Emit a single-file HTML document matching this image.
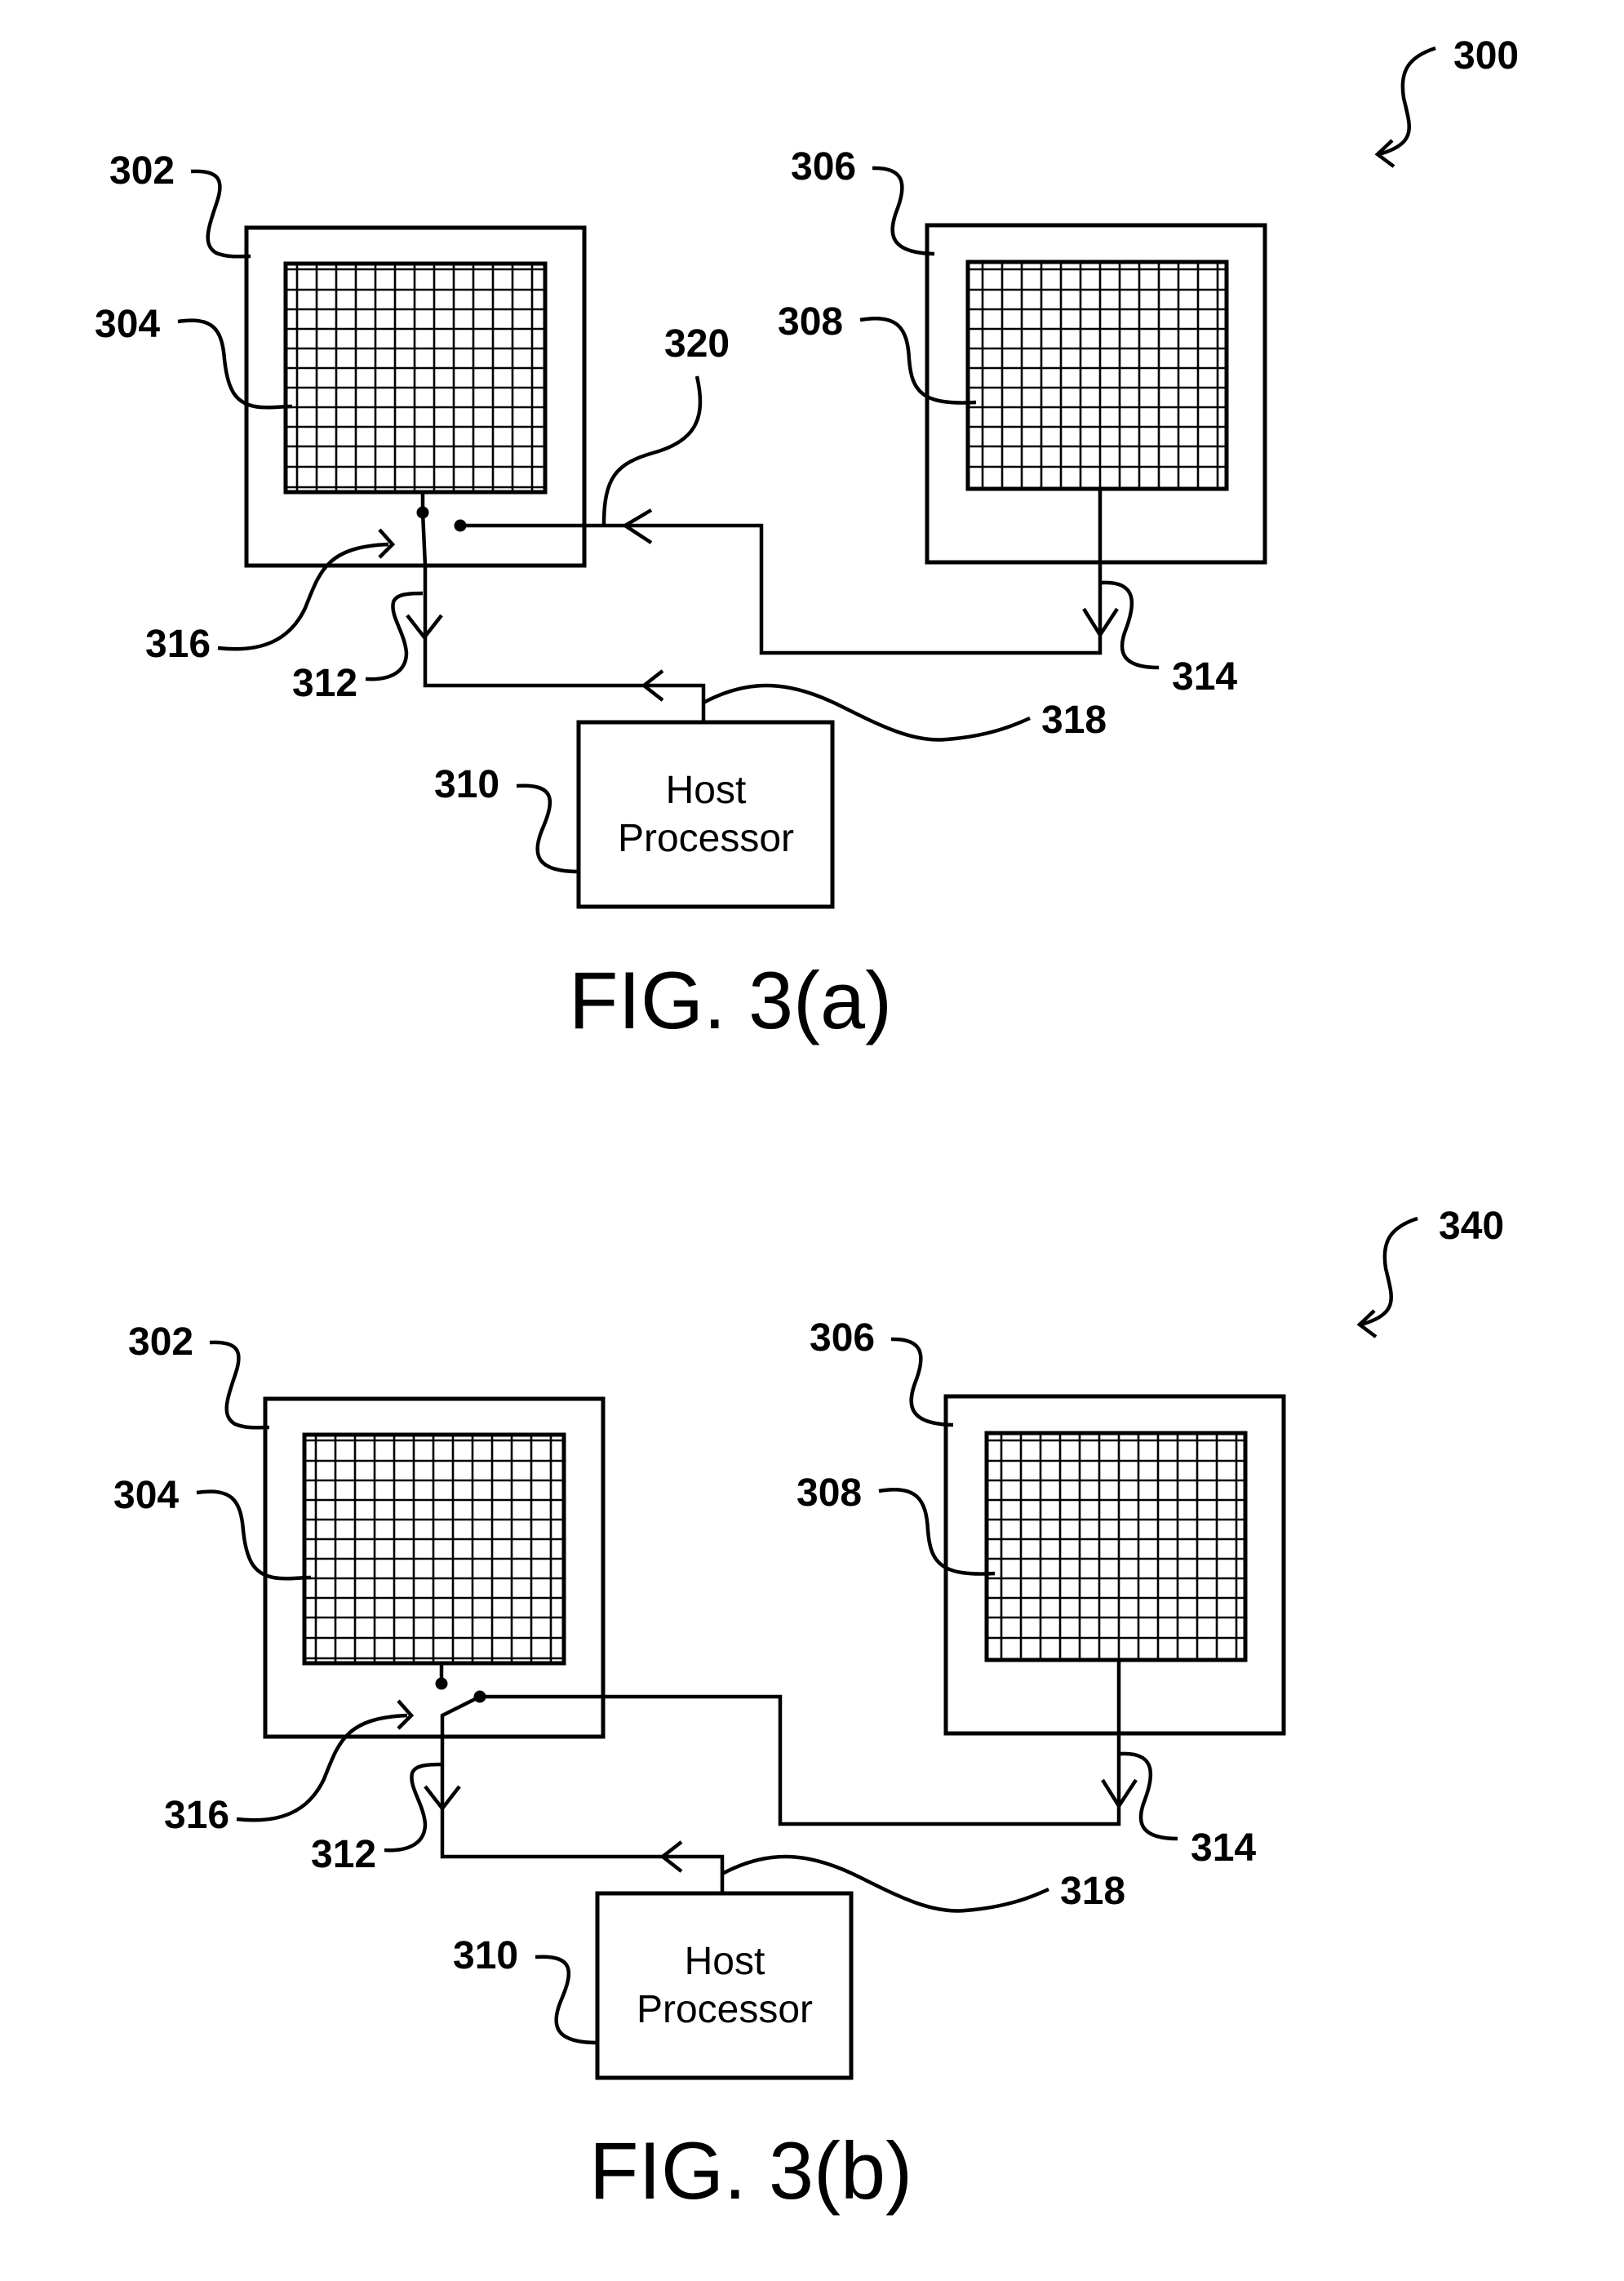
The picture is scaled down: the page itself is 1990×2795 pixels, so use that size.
<!DOCTYPE html>
<html><head><meta charset="utf-8"><style>
html,body{margin:0;padding:0;background:#fff;}
svg{display:block;}
.l{font-family:"Liberation Sans",Arial,sans-serif;font-weight:bold;font-size:48px;fill:#000;}
.h{font-family:"Liberation Sans",Arial,sans-serif;font-size:48px;fill:#000;}
.c{font-family:"Liberation Sans",Arial,sans-serif;font-size:99px;fill:#000;}
</style></head><body>
<svg width="1990" height="2795" viewBox="0 0 1990 2795" xmlns="http://www.w3.org/2000/svg">
<rect width="1990" height="2795" fill="#fff"/>

<!-- FIG 3(a) -->
<g fill="none" stroke="#000" stroke-width="4.5" stroke-linejoin="miter">
<rect x="302" y="279" width="414" height="414" stroke-width="5"/>
<path stroke-width="2.6" d="M364,323V603M388,323V603M412,323V603M436,323V603M460,323V603M484,323V603M508,323V603M532,323V603M556,323V603M580,323V603M604,323V603M628,323V603M652,323V603M350,330H668M350,355H668M350,379H668M350,403H668M350,427H668M350,451H668M350,475H668M350,499H668M350,523H668M350,547H668M350,572H668M350,597H668"/>
<rect x="350" y="323" width="318" height="280" stroke-width="5"/>
<rect x="1136" y="276" width="414" height="413" stroke-width="5"/>
<path stroke-width="2.6" d="M1204,321V599M1228,321V599M1252,321V599M1276,321V599M1300,321V599M1324,321V599M1348,321V599M1372,321V599M1396,321V599M1420,321V599M1444,321V599M1468,321V599M1492,321V599M1186,330H1503M1186,355H1503M1186,379H1503M1186,403H1503M1186,427H1503M1186,451H1503M1186,475H1503M1186,499H1503M1186,523H1503M1186,547H1503M1186,572H1503"/>
<rect x="1186" y="321" width="317" height="278" stroke-width="5"/>
<rect x="709" y="885" width="311" height="226" stroke-width="5"/>
<path d="M518,603 L518,628 L521,693 L521,840 L862,840 L862,885"/>
<path d="M499,754 L520,781 L541,754"/>
<path d="M812,822 L789,840 L812,858"/>
<path d="M564,644 L933,644 L933,800 L1348,800 L1348,599"/>
<path d="M798,625 L766,644 L798,665"/>
<path d="M1328,746 L1348,778 L1369,746"/>
<path d="M234,210 C270,208 275,222 265,250 C255,280 248,300 265,310 C280,316 295,314 307,314"/>
<path d="M218,394 C260,388 272,402 275,440 C279,480 290,497 320,499 C335,500 345,498 358,498"/>
<path d="M1069,206 C1105,205 1112,222 1100,255 C1088,285 1088,310 1145,311"/>
<path d="M1054,392 C1100,384 1112,402 1114,440 C1117,480 1130,497 1196,493"/>
<path d="M854,461 C865,510 855,540 800,555 C755,568 740,585 740,643"/>
<path d="M267,794 C320,800 355,785 374,745 C392,700 400,670 476,667"/>
<path d="M465,649 L481,667 L465,683"/>
<path d="M448,832 C480,834 498,822 498,800 C496,775 478,755 482,738 C485,728 500,727 518,727"/>
<path d="M633,963 C680,960 680,980 665,1015 C650,1050 660,1068 709,1068"/>
<path d="M862,861 C920,830 970,835 1030,865 C1080,890 1120,910 1160,906 C1210,902 1240,890 1262,880"/>
<path d="M1350,714 C1390,712 1393,735 1380,770 C1368,800 1376,818 1420,818"/>
<path d="M1759,59 C1725,70 1715,88 1720,120 C1728,155 1738,175 1690,189"/>
<path d="M1706,172 L1688,189 L1708,204"/>
</g>
<circle cx="518" cy="628" r="7.5" fill="#000"/>
<circle cx="564" cy="644" r="7.5" fill="#000"/>
<text class="l" x="134" y="225">302</text>
<text class="l" x="116" y="413">304</text>
<text class="l" x="814" y="437">320</text>
<text class="l" x="969" y="220">306</text>
<text class="l" x="953" y="410">308</text>
<text class="l" x="178" y="805">316</text>
<text class="l" x="358" y="853">312</text>
<text class="l" x="532" y="977">310</text>
<text class="l" x="1436" y="845">314</text>
<text class="l" x="1276" y="898">318</text>
<text class="l" x="1781" y="84">300</text>
<text class="h" x="865" y="984" text-anchor="middle">Host</text>
<text class="h" x="865" y="1043" text-anchor="middle">Processor</text>
<text class="c" x="697" y="1260">FIG. 3(a)</text>

<!-- FIG 3(b) -->
<g transform="translate(23,1435)">
<g fill="none" stroke="#000" stroke-width="4.5">
<rect x="302" y="279" width="414" height="414" stroke-width="5"/>
<path stroke-width="2.6" d="M364,323V603M388,323V603M412,323V603M436,323V603M460,323V603M484,323V603M508,323V603M532,323V603M556,323V603M580,323V603M604,323V603M628,323V603M652,323V603M350,330H668M350,355H668M350,379H668M350,403H668M350,427H668M350,451H668M350,475H668M350,499H668M350,523H668M350,547H668M350,572H668M350,597H668"/>
<rect x="350" y="323" width="318" height="280" stroke-width="5"/>
<rect x="1136" y="276" width="414" height="413" stroke-width="5"/>
<path stroke-width="2.6" d="M1204,321V599M1228,321V599M1252,321V599M1276,321V599M1300,321V599M1324,321V599M1348,321V599M1372,321V599M1396,321V599M1420,321V599M1444,321V599M1468,321V599M1492,321V599M1186,330H1503M1186,355H1503M1186,379H1503M1186,403H1503M1186,427H1503M1186,451H1503M1186,475H1503M1186,499H1503M1186,523H1503M1186,547H1503M1186,572H1503"/>
<rect x="1186" y="321" width="317" height="278" stroke-width="5"/>
<rect x="709" y="885" width="311" height="226" stroke-width="5"/>
<path d="M518,603 L518,628"/>
<path d="M565,644 L519,667 L519,840 L862,840 L862,885"/>
<path d="M498,754 L519,781 L540,754"/>
<path d="M812,822 L789,840 L812,858"/>
<path d="M565,644 L933,644 L933,800 L1348,800 L1348,599"/>
<path d="M1328,746 L1348,778 L1369,746"/>
<path d="M234,210 C270,208 275,222 265,250 C255,280 248,300 265,310 C280,316 295,314 307,314"/>
<path d="M218,394 C260,388 272,402 275,440 C279,480 290,497 320,499 C335,500 345,498 358,498"/>
<path d="M1069,206 C1105,205 1112,222 1100,255 C1088,285 1088,310 1145,311"/>
<path d="M1054,392 C1100,384 1112,402 1114,440 C1117,480 1130,497 1196,493"/>
<path d="M267,794 C320,800 355,785 374,745 C392,700 400,670 476,667"/>
<path d="M465,649 L481,667 L465,683"/>
<path d="M448,832 C480,834 498,822 498,800 C496,775 478,755 482,738 C485,728 500,727 518,727"/>
<path d="M633,963 C680,960 680,980 665,1015 C650,1050 660,1068 709,1068"/>
<path d="M862,861 C920,830 970,835 1030,865 C1080,890 1120,910 1160,906 C1210,902 1240,890 1262,880"/>
<path d="M1350,714 C1390,712 1393,735 1380,770 C1368,800 1376,818 1420,818"/>
</g>
<circle cx="518" cy="628" r="7.5" fill="#000"/>
<circle cx="565" cy="644" r="7.5" fill="#000"/>
<text class="l" x="134" y="225">302</text>
<text class="l" x="116" y="413">304</text>
<text class="l" x="969" y="220">306</text>
<text class="l" x="953" y="410">308</text>
<text class="l" x="178" y="805">316</text>
<text class="l" x="358" y="853">312</text>
<text class="l" x="532" y="977">310</text>
<text class="l" x="1436" y="845">314</text>
<text class="l" x="1276" y="898">318</text>
<text class="h" x="865" y="984" text-anchor="middle">Host</text>
<text class="h" x="865" y="1043" text-anchor="middle">Processor</text>
</g>
<g transform="translate(-22,1434)">
<g fill="none" stroke="#000" stroke-width="4.5">
<path d="M1759,59 C1725,70 1715,88 1720,120 C1728,155 1738,175 1690,189"/>
<path d="M1706,172 L1688,189 L1708,204"/>
</g>
<text class="l" x="1785" y="84">340</text>
</g>
<text class="c" x="722" y="2694">FIG. 3(b)</text>
</svg>
</body></html>
